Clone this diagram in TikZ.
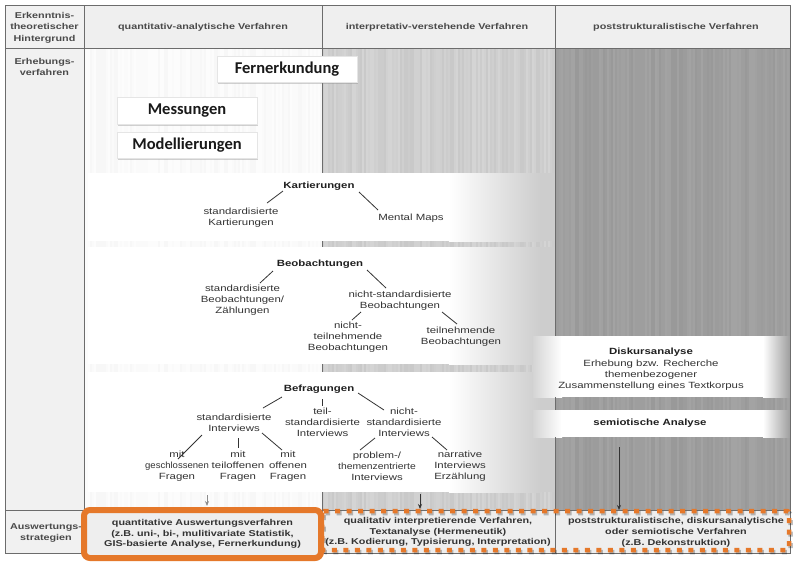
\documentclass[tikz,border=0pt]{standalone}
\usepackage{fontspec}
\usetikzlibrary{shadows,arrows.meta}
\newfontfamily\scanfont{Liberation Sans}[FakeStretch=1.27]
\newfontfamily\scannarrow{Liberation Sans}[FakeStretch=1.06]
\newfontfamily\scanmid{Liberation Sans}[FakeStretch=1.15]
\newfontfamily\calloutfont{Carlito}
\definecolor{colA}{HTML}{F1F1F1}
\definecolor{hdrbg}{HTML}{EFEFEF}
\definecolor{col2bg}{HTML}{F5F5F5}
\definecolor{col3bg}{HTML}{CDCDCD}
\definecolor{col4bg}{HTML}{9E9E9E}
\definecolor{botbg}{HTML}{EEEEEE}
\definecolor{ink}{HTML}{333333}
\definecolor{inkb}{HTML}{1F1F1F}
\definecolor{hdrc}{HTML}{4A4A4A}
\definecolor{rule}{HTML}{6C6C6C}
\definecolor{orng}{HTML}{E5782A}
\begin{document}
\begin{tikzpicture}[x=1pt,y=-1pt,
  txt/.style={font=\scanfont\fontsize{9}{10.9}\selectfont, text=ink, align=center, inner sep=0pt},
  hd/.style={font=\scanfont\bfseries\fontsize{9}{10.9}\selectfont, text=inkb, align=center, inner sep=0pt},
  hdr/.style={font=\scanfont\bfseries\fontsize{8.5}{11.5}\selectfont, text=hdrc, align=center, inner sep=0pt},
  bot/.style={font=\scanfont\bfseries\fontsize{8.5}{10.8}\selectfont, text=ink, align=center, inner sep=0pt},
  callout/.style={fill=white, draw=black!10, line width=0.4, minimum width=140, minimum height=26, inner sep=0pt,
    font=\calloutfont\bfseries\fontsize{16.5}{18}\selectfont, text=black!90,
    drop shadow={shadow xshift=1.3pt, shadow yshift=-1.8pt, opacity=0.35}},
  branch/.style={draw=ink, line width=0.8},
  arr/.style={-{Stealth[length=5pt,width=4pt]}, line width=0.8},
  gridline/.style={draw=rule, line width=0.8},
  solidbox/.style={draw=orng, line width=6, rounded corners=6, fill=botbg, minimum width=237, minimum height=48,
    drop shadow={shadow xshift=1.5pt, shadow yshift=-2.5pt, opacity=0.35}},
  dashbox/.style={draw=orng, line width=4.5, dash pattern=on 5pt off 6.5pt, rounded corners=2}
]
\useasboundingbox (0,0) rectangle (798,566);
\fill[white] (0,0) rectangle (798,566);
% backgrounds
\fill[colA] (5,5) rectangle (84,553);
\fill[hdrbg] (84,5) rectangle (790,48);
\fill[col2bg] (84,48) rectangle (322,510);
\fill[col3bg] (322,48) rectangle (555,510);
\fill[col4bg] (555,48) rectangle (790,510);
\fill[botbg] (84,510) rectangle (790,553);
% streaks
\pgfmathsetseed{42}
\begin{scope}
\clip (84,48) rectangle (322,510);
\foreach \i in {0,...,119}{
  \pgfmathtruncatemacro\g{1+int(rnd*3)}
  \fill[black!\g] ({84+2*\i},48) rectangle ({86+2*\i},510);
}
\end{scope}
\begin{scope}
\clip (322,48) rectangle (555,510);
\foreach \i in {0,...,117}{
  \pgfmathtruncatemacro\g{17+int(rnd*5)}
  \fill[black!\g] ({322+2*\i},48) rectangle ({324+2*\i},510);
}
\end{scope}
\begin{scope}
\clip (555,48) rectangle (790,510);
\foreach \i in {0,...,118}{
  \pgfmathtruncatemacro\g{36+int(rnd*5)}
  \fill[black!\g] ({555+2*\i},48) rectangle ({557+2*\i},510);
}
\end{scope}
% white bands
\foreach \a/\b in {173/241, 247/364, 372/492}{
  \fill[white] (88,\a) rectangle (450,\b);
  \shade[left color=white, right color=col3bg] (449,\a) rectangle (540,\b);
  \fill[col3bg] (539.5,\a) rectangle (555,\b);
}
\foreach \a/\b in {336/397, 410/437}{
  \shade[left color=col3bg!85!white, right color=white] (533,\a) rectangle (562,\b);
  \fill[white] (561,\a) rectangle (764,\b);
  \shade[left color=white, right color=col4bg] (763,\a) rectangle (790,\b);
}
% grid
\draw[gridline] (5,5) rectangle (790,553);
\draw[gridline] (5,48) -- (790,48);
\draw[gridline] (5,510) -- (790,510);
\draw[gridline] (84,5) -- (84,553);
\foreach \a/\b in {5/173, 241/247, 364/372, 492/553}{
  \draw[gridline] (322,\a) -- (322,\b);
}
\foreach \a/\b in {5/336, 397/410, 437/553}{
  \draw[gridline] (555,\a) -- (555,\b);
}
% header texts
\node[hdr] (h1) at (44.5,27.5) {Erkenntnis-\\theoretischer\\Hintergrund};
\node[hdr] (r1) at (44.5,67) {Erhebungs-\\verfahren};
\node[hdr] (r3) at (46,533) {Auswertungs-\\strategien};
\node[hdr] (h2) at (203,27) {quantitativ-analytische Verfahren};
\node[hdr] (h3) at (437,27) {interpretativ-verstehende Verfahren};
\node[hdr] (h4) at (676,27) {poststrukturalistische Verfahren};
% callouts
\node[callout] (fern) at (287,69.5) {Fernerkundung};
\node[callout, minimum height=27] (mess) at (187,110.5) {Messungen};
\node[callout] (mod) at (187,145) {Modellierungen};
% Kartierungen
\node[hd] (kart) at (319,186) {Kartierungen};
\node[txt] (kstd) at (241,218) {standardisierte\\Kartierungen};
\node[txt] (kmm) at (411,218) {Mental Maps};
\draw[branch] ([shift={(-36,5)}]kart.center) -- ([shift={(26,-15)}]kstd.center);
\draw[branch] ([shift={(40,6)}]kart.center) -- ([shift={(-33,-8)}]kmm.center);
% Beobachtungen
\node[hd] (beob) at (320,264) {Beobachtungen};
\node[txt] (bstd) at (242.5,300) {standardisierte\\Beobachtungen/\\Zählungen};
\node[txt] (bns) at (400,301) {nicht-standardisierte\\Beobachtungen};
\node[txt] (bnt) at (348,337) {nicht-\\teilnehmende\\Beobachtungen};
\node[txt] (bt) at (461,336.5) {teilnehmende\\Beobachtungen};
\draw[branch] ([shift={(-47,7)}]beob.center) -- ([shift={(17.5,-17)}]bstd.center);
\draw[branch] ([shift={(47,6)}]beob.center) -- ([shift={(-14,-13)}]bns.center);
\draw[branch] ([shift={(-39,11)}]bns.center) -- ([shift={(4,-17)}]bnt.center);
\draw[branch] ([shift={(42,11)}]bns.center) -- ([shift={(-4,-12.5)}]bt.center);
% Befragungen
\node[hd] (bef) at (319,389) {Befragungen};
\node[txt] (fstd) at (234,423) {standardisierte\\Interviews};
\node[txt] (fteil) at (322.5,422) {teil-\\standardisierte\\Interviews};
\node[txt] (fnicht) at (404,422) {nicht-\\standardisierte\\Interviews};
\node[txt] (fg) at (177,466) {mit\\{\scannarrow geschlossenen}\\Fragen};
\node[txt] (fto) at (238,466) {mit\\teiloffenen\\Fragen};
\node[txt] (fo) at (288,466) {mit\\offenen\\Fragen};
\node[txt] (fp) at (377,466) {problem-/\\{\scanmid themenzentrierte}\\Interviews};
\node[txt] (fn) at (460,466) {narrative\\Interviews\\Erzählung};
\draw[branch] ([shift={(-37,8)}]bef.center) -- ([shift={(29,-15)}]fstd.center);
\draw[branch] ([shift={(3,10)}]bef.center) -- ([shift={(-0.5,-16)}]fteil.center);
\draw[branch] ([shift={(39,4)}]bef.center) -- ([shift={(-20,-12)}]fnicht.center);
\draw[branch] ([shift={(-32,12)}]fstd.center) -- ([shift={(1,-7)}]fg.center);
\draw[branch] ([shift={(4,15)}]fstd.center) -- ([shift={(0,-18)}]fto.center);
\draw[branch] ([shift={(28,10)}]fstd.center) -- ([shift={(-6,-16)}]fo.center);
\draw[branch] ([shift={(-29,16)}]fnicht.center) -- ([shift={(-17,-16)}]fp.center);
\draw[branch] ([shift={(28,15)}]fnicht.center) -- ([shift={(-13,-16)}]fn.center);
% Diskursanalyse / semiotische Analyse
\node[txt] (disk) at (651,369) {\textbf{\color{inkb}Diskursanalyse}\\[1.6pt]Erhebung bzw. Recherche\\themenbezogener\\Zusammenstellung eines Textkorpus};
\node[hd] (semio) at (650,423) {semiotische Analyse};
% arrows
\coordinate (a2s) at (207,495);
\coordinate (a2e) at (207,506);
\coordinate (a3s) at (420,494);
\coordinate (a3e) at (420,509);
\coordinate (a4s) at (619,447);
\coordinate (a4e) at (619,510);
\draw[arr, draw=black!45] (a2s) -- (a2e);
\draw[arr, draw=ink] (a3s) -- (a3e);
\draw[arr, draw=ink] (a4s) -- (a4e);
% bottom row
\draw[dashbox, draw=black, opacity=0.25] (323.5,513) rectangle (790.5,552);
\draw[dashbox] (322,511) rectangle (789,550);
\node[bot] (qual) at (438,532) {qualitativ interpretierende Verfahren,\\Textanalyse (Hermeneutik)\\(z.B. Kodierung, Typisierung, Interpretation)};
\node[bot] (post) at (676,532) {poststrukturalistische, diskursanalytische\\oder semiotische Verfahren\\(z.B. Dekonstruktion)};
\node[solidbox, bot] (quant) at (202.5,534) {quantitative Auswertungsverfahren\\(z.B. uni-, bi-, mulitivariate Statistik,\\GIS-basierte Analyse, Fernerkundung)};
\end{tikzpicture}
\end{document}
